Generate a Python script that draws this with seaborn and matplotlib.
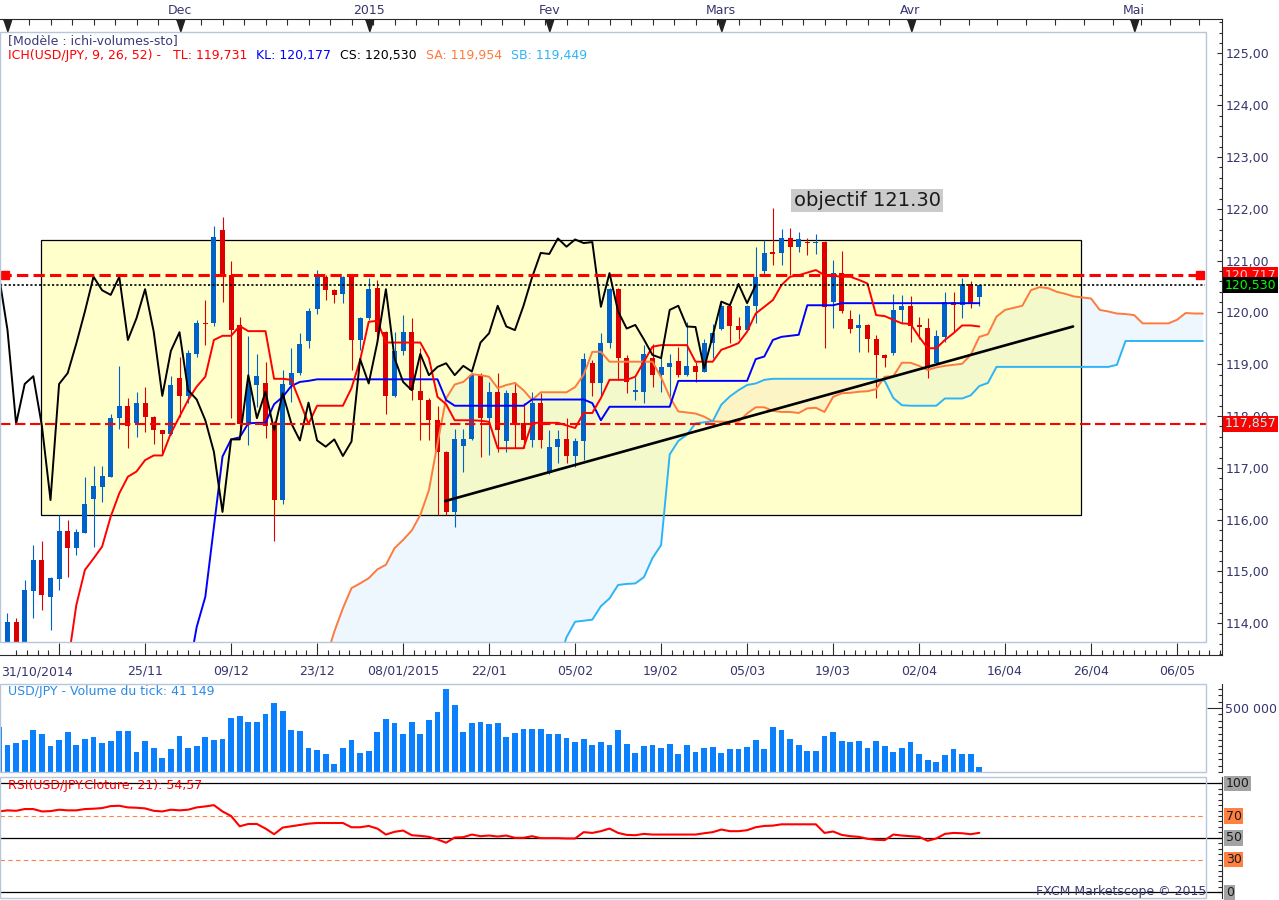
import numpy as np
import matplotlib
matplotlib.use("Agg")
import matplotlib.pyplot as plt
import matplotlib.transforms as mtrans
from matplotlib.patches import Rectangle
from matplotlib.ticker import FixedLocator, NullLocator
import seaborn as sns

sns.set_style("white")
plt.rcParams["font.family"] = ["DejaVu Sans"]

# ------------------------------------------------------------------ data
# trading-day slots: -1 = 31/10/2014 ... 113 = 13/04/2015
bars = np.arange(-1, 114)

opens = [
    112.20, 113.40, 114.03, 113.45, 114.63, 115.22, 114.51, 114.85, 115.78, 115.46,
    115.75, 116.40, 116.64, 116.83, 117.96, 118.20, 117.87, 118.26, 117.98, 117.73,
    117.65, 118.74, 118.39, 119.20, 119.80, 119.79, 121.59, 120.72, 119.76, 117.85,
    118.60, 118.64, 117.87, 116.38, 118.60, 118.83, 119.45, 120.06, 120.68, 120.43,
    120.36, 120.69, 119.47, 119.89, 120.47, 119.63, 118.39, 119.26, 119.62, 118.48,
    118.32, 117.92, 117.31, 116.15, 117.42, 117.55, 118.79, 117.96, 118.47, 117.51,
    118.44, 117.86, 117.53, 118.26, 116.90, 117.41, 117.55, 117.23, 117.51, 119.02,
    118.63, 119.42, 120.45, 119.12, 118.47, 118.47, 119.12, 118.79, 118.95, 119.06,
    118.79, 118.97, 118.86, 119.42, 119.68, 120.13, 119.74, 119.66, 120.13, 120.81,
    121.16, 121.14, 121.43, 121.27, 121.36, 121.34, 121.37, 120.20, 120.76, 119.87,
    119.71, 119.76, 119.48, 119.18, 119.21, 120.05, 120.13, 119.75, 119.71, 119.02,
    119.53, 120.21, 120.14, 120.55, 120.29]
highs = [
    112.90, 114.20, 114.10, 114.84, 115.51, 115.59, 114.90, 116.09, 116.00, 115.83,
    116.83, 117.04, 117.04, 118.05, 118.97, 118.34, 118.46, 118.56, 118.00, 117.74,
    118.77, 119.15, 119.28, 119.86, 120.24, 121.67, 121.85, 120.99, 119.92, 119.55,
    119.20, 119.04, 117.90, 118.89, 119.31, 119.60, 120.08, 120.82, 120.72, 120.45,
    120.70, 120.71, 119.92, 120.66, 120.63, 119.65, 119.63, 119.95, 119.89, 119.31,
    118.34, 118.20, 117.33, 117.75, 117.76, 118.83, 118.83, 118.66, 118.83, 118.50,
    118.66, 118.25, 118.47, 118.45, 117.73, 117.73, 117.96, 117.57, 119.21, 119.08,
    119.60, 120.47, 120.47, 119.18, 118.76, 119.37, 119.40, 119.15, 119.20, 119.34,
    119.82, 119.05, 119.48, 119.78, 120.19, 120.14, 119.92, 120.14, 121.26, 121.39,
    122.01, 121.61, 121.64, 121.55, 121.43, 121.51, 121.38, 121.01, 121.19, 120.05,
    119.98, 119.78, 119.57, 119.20, 120.36, 120.34, 120.31, 119.92, 119.89, 119.66,
    120.40, 120.40, 120.66, 120.60, 120.52]
lows = [
    111.60, 113.20, 113.00, 113.30, 114.10, 114.26, 113.87, 114.64, 114.90, 115.32,
    115.75, 115.48, 116.35, 116.83, 117.76, 117.38, 117.60, 117.70, 117.46, 117.24,
    117.64, 117.99, 118.25, 119.15, 119.37, 119.73, 120.21, 117.96, 117.67, 117.44,
    118.18, 117.57, 115.58, 116.30, 118.28, 118.80, 119.32, 119.98, 120.24, 120.18,
    120.18, 118.89, 119.28, 119.86, 119.44, 118.05, 118.37, 119.18, 118.31, 117.54,
    117.54, 116.09, 116.09, 115.86, 116.93, 117.54, 117.22, 117.25, 117.31, 117.31,
    117.38, 117.38, 117.41, 117.38, 116.89, 117.09, 117.09, 117.02, 117.15, 118.38,
    118.41, 119.31, 118.70, 118.45, 118.31, 118.26, 118.57, 118.47, 118.31, 118.76,
    118.78, 118.66, 118.85, 119.12, 119.66, 119.41, 119.48, 119.65, 119.79, 120.74,
    120.92, 120.92, 120.72, 121.17, 121.11, 121.13, 119.31, 119.70, 120.00, 119.60,
    119.24, 119.24, 118.34, 118.94, 119.18, 119.79, 119.44, 119.48, 118.73, 119.01,
    119.44, 119.63, 119.89, 120.08, 120.13]
closes = [
    112.60, 114.03, 113.45, 114.64, 115.22, 114.55, 114.87, 115.78, 115.46, 115.76,
    116.30, 116.65, 116.84, 117.96, 118.20, 117.81, 118.26, 117.98, 117.73, 117.65,
    118.61, 118.39, 119.21, 119.79, 119.78, 121.46, 120.72, 119.66, 117.85, 118.62,
    118.77, 117.81, 116.38, 118.62, 118.83, 119.40, 120.02, 120.69, 120.43, 120.34,
    120.69, 119.47, 119.89, 120.45, 119.63, 118.39, 119.26, 119.62, 118.50, 118.32,
    117.92, 117.31, 116.15, 117.55, 117.55, 118.79, 117.96, 118.47, 117.73, 118.44,
    117.86, 117.53, 118.26, 117.53, 117.41, 117.55, 117.23, 117.51, 119.10, 118.63,
    119.42, 120.45, 119.12, 118.66, 118.50, 119.20, 118.79, 118.95, 119.02, 118.79,
    118.97, 118.86, 119.42, 119.60, 120.13, 119.73, 119.66, 120.13, 120.68, 121.15,
    121.13, 121.43, 121.27, 121.41, 121.34, 121.36, 120.11, 120.76, 120.02, 119.69,
    119.76, 119.48, 119.18, 119.12, 120.05, 120.13, 119.73, 119.72, 118.92, 119.55,
    120.21, 120.14, 120.55, 120.18, 120.53]

# Tenkan-sen, slots 7..113
tenkan_start = 7
tenkan = [
    113.20, 114.35, 115.03, 115.25, 115.48, 116.06, 116.51, 116.83, 116.93, 117.15,
    117.24, 117.24, 117.67, 117.99, 118.31, 118.57, 118.76, 119.47, 119.55, 119.55,
    119.74, 119.64, 119.64, 119.64, 118.72, 118.72, 118.70, 118.28, 117.85, 118.20,
    118.20, 118.20, 118.20, 118.54, 119.08, 119.82, 119.84, 119.42, 119.42, 119.42,
    119.42, 119.42, 119.12, 118.37, 118.23, 117.92, 117.92, 117.92, 117.91, 117.89,
    117.38, 117.38, 117.38, 117.38, 117.87, 117.87, 117.87, 117.87, 117.82, 117.77,
    118.06, 118.06, 118.35, 118.70, 118.70, 118.70, 118.76, 119.05, 119.34, 119.37,
    119.37, 119.37, 119.37, 119.05, 119.05, 119.05, 119.28, 119.34, 119.41, 119.63,
    119.98, 120.11, 120.24, 120.53, 120.69, 120.72, 120.77, 120.82, 120.72, 120.71,
    120.69, 120.69, 120.63, 120.56, 119.95, 119.93, 119.86, 119.79, 119.78, 119.53,
    119.31, 119.31, 119.47, 119.60, 119.75, 119.75, 119.73]

# Kijun-sen, slots 21..113
kijun_start = 21
kijun = ([113.00, 113.93, 114.51, 115.86, 117.22, 117.55, 117.59, 117.86, 117.87, 117.87,
          118.23, 118.37, 118.58, 118.66, 118.68]
         + [118.71] * 15
         + [118.31] + [118.20] * 9
         + [118.32] * 7 + [118.25, 117.92]
         + [118.18] * 8
         + [118.68] * 9
         + [119.10, 119.15, 119.47, 119.53, 119.55, 119.57]
         + [120.14] * 4
         + [120.18] * 17)

# Senkou span A / B (already projected 26 slots ahead), slots 37..139
span_start = 37
senkou_a = [
    113.30, 113.84, 114.29, 114.68, 114.77, 114.87, 115.04, 115.13, 115.45, 115.61,
    115.79, 116.09, 116.57, 117.47, 118.34, 118.61, 118.66, 118.81, 118.79, 118.76,
    118.54, 118.60, 118.64, 118.50, 118.31, 118.46, 118.46, 118.46, 118.46, 118.56,
    118.80, 119.24, 119.24, 119.05, 119.05, 119.05, 119.05, 119.05, 119.05, 118.75,
    118.37, 118.09, 118.07, 118.05, 117.99, 117.90, 117.89, 117.89, 117.89, 118.05,
    118.17, 118.17, 118.10, 118.08, 118.08, 118.06, 118.15, 118.16, 118.08, 118.37,
    118.44, 118.45, 118.47, 118.48, 118.52, 118.76, 118.77, 119.03, 119.03, 118.97,
    118.89, 118.94, 118.97, 118.99, 119.01, 119.18, 119.53, 119.58, 119.92, 120.05,
    120.09, 120.13, 120.43, 120.49, 120.47, 120.40, 120.36, 120.31, 120.29, 120.27,
    120.05, 120.02, 119.98, 119.97, 119.95, 119.79, 119.79, 119.79, 119.79, 119.86,
    119.99, 119.98, 119.98]
senkou_b = ([113.20] * 28
            + [113.73, 114.03, 114.05, 114.07, 114.33, 114.48, 114.74, 114.76, 114.77, 114.89,
               115.26, 115.51, 117.26, 117.52, 117.64, 117.86, 117.88, 117.90, 118.22, 118.38,
               118.50, 118.60, 118.63, 118.70]
            + [118.72] * 13
            + [118.68, 118.35, 118.21, 118.20, 118.20, 118.20, 118.20, 118.34, 118.34, 118.34,
               118.40, 118.58, 118.64]
            + [118.95] * 14
            + [118.99]
            + [119.45] * 10)

volume = [
    351540, 208320, 223944, 249984, 328104, 294252, 200508, 247380, 309876, 208320,
    255192, 270816, 223944, 239568, 320292, 320292, 153636, 239568, 184884, 106764,
    177072, 278628, 184884, 200508, 270816, 247380, 255192, 419244, 434868, 387996,
    387996, 450492, 536424, 473928, 325500, 320292, 184884, 169260, 138012, 59892,
    184884, 247380, 145824, 161448, 309876, 411432, 380184, 294252, 387996, 294252,
    403620, 466116, 645792, 520800, 309876, 380184, 387996, 372372, 380184, 270816,
    302064, 333312, 333312, 333312, 294252, 294252, 263004, 231756, 255192, 208320,
    231756, 208320, 325500, 216132, 145824, 200508, 208320, 184884, 216132, 138012,
    208320, 153636, 184884, 192696, 145824, 177072, 177072, 192696, 247380, 177072,
    348936, 325500, 255192, 208320, 161448, 161448, 278628, 309876, 239568, 231756,
    239568, 184884, 239568, 200508, 153636, 184884, 231756, 138012, 91140, 75516,
    130200, 177072, 138012, 138012, 41149]

rsi = [
    74.2, 75.2, 74.8, 76.4, 76.4, 74.2, 74.5, 75.8, 75.2, 75.2,
    76.4, 76.7, 77.3, 79.1, 79.4, 77.9, 77.6, 77.0, 74.8, 74.2,
    75.8, 75.2, 75.8, 77.9, 78.8, 80.0, 74.2, 70.0, 60.6, 62.7,
    62.7, 58.5, 53.3, 59.4, 60.6, 61.8, 63.0, 63.6, 63.6, 63.6,
    63.6, 59.7, 59.7, 60.9, 58.5, 53.0, 55.5, 56.7, 52.4, 51.8,
    50.9, 48.5, 45.5, 50.3, 50.6, 53.0, 51.5, 52.1, 51.2, 52.1,
    50.0, 50.0, 51.5, 49.7, 49.7, 49.7, 49.4, 49.4, 55.2, 54.5,
    56.1, 58.5, 54.5, 52.7, 52.4, 53.6, 53.0, 53.0, 53.0, 53.0,
    53.0, 53.0, 54.2, 55.2, 57.6, 56.1, 56.1, 57.0, 59.7, 60.9,
    61.2, 62.4, 62.4, 62.4, 62.4, 62.4, 54.5, 55.8, 52.7, 51.5,
    50.9, 49.1, 48.2, 47.9, 53.0, 52.1, 51.5, 50.9, 47.3, 49.4,
    53.6, 54.5, 54.2, 53.3, 54.57]

# horizontal levels / drawings
level_high = 120.717
level_low = 117.857
last_close = 120.530
trend_x = [50.9, 123.9]
trend_y = [116.36, 119.73]
box_x = [3.9, 124.8]
box_y = [116.10, 121.39]
objectif_label = "objectif 121.30"

# axis labels
price_ticks = [114, 115, 116, 117, 118, 119, 120, 121, 122, 123, 124, 125]
price_tick_labels = ["114,00", "115,00", "116,00", "117,00", "118,00", "119,00",
                     "120,00", "121,00", "122,00", "123,00", "124,00", "125,00"]
date_pos = [6, 16, 26, 36, 46, 56, 66, 76, 86, 96, 106, 116, 126, 136]
date_labels = ["", "25/11", "09/12", "23/12", "08/01/2015", "22/01", "05/02",
               "19/02", "05/03", "19/03", "02/04", "16/04", "26/04", "06/05"]
first_date_label = "31/10/2014"
month_pos = [0, 20, 42, 63, 83, 105, 131]
month_labels = ["", "Dec", "2015", "Fev", "Mars", "Avr", "Mai"]
rsi_levels = [100, 70, 50, 30, 0]
rsi_level_labels = ["100", "70", "50", "30", "0"]

# ------------------------------------------------------------------ style
W, H = 1279, 900
SLOT, X0PX = 8.6, 7.5          # px per slot, px of slot 0
PPX, Y120 = 51.8, 312.5        # px per yen, px of 120.00
BLUE, RED = "#0062c8", "#dd0000"
SA_C, SB_C = "#ff7a3d", "#2db4f7"
CLOUD_UP, CLOUD_DN = "#eef7fd", "#fcf0f6"
VOL_C = "#0a80ff"
FRAME_C = "#b7c7db"
AXIS_C = "#2b2b2b"
LABEL_C = "#35356e"


def prect(x0, y0, x1, y1):
    return [x0 / W, 1 - y1 / H, (x1 - x0) / W, (y1 - y0) / H]


def py(ypx):
    return 120 + (Y120 - ypx) / PPX


def sx(xpx):
    return (xpx - X0PX) / SLOT


XMIN, XMAX = sx(0), sx(1222)
INNER = 1206 / 1222

fig = plt.figure(figsize=(W / 100, H / 100), dpi=100)
fig.patch.set_facecolor("white")

# ---------------- frame axes (right price scale, date axis, month axis)
ax_frame = fig.add_axes(prect(0, 19, 1222, 655))
ax_top = ax_frame.twiny()
ax_frame.set_facecolor("white")
ax_frame.set_xlim(XMIN, XMAX)
ax_frame.set_ylim(py(655), py(19))
ax_frame.spines["left"].set_visible(False)
for s in ("top", "bottom", "right"):
    ax_frame.spines[s].set_color(AXIS_C)
    ax_frame.spines[s].set_linewidth(0.8)
ax_frame.yaxis.tick_right()
ax_frame.set_yticks(price_ticks, labels=price_tick_labels)
ax_frame.yaxis.set_minor_locator(FixedLocator(np.round(np.arange(113.4, 125.7, 0.2), 1)))
ax_frame.tick_params(axis="y", which="major", direction="in", length=3.8, width=0.8,
                     color=AXIS_C, labelcolor=LABEL_C, labelsize=9, pad=2.5,
                     right=True, left=False, labelright=True, labelleft=False)
ax_frame.tick_params(axis="y", which="minor", direction="in", length=2.4, width=0.8,
                     color=AXIS_C, right=True, left=False)
ax_frame.set_xticks(date_pos, labels=date_labels)
ax_frame.xaxis.set_minor_locator(FixedLocator(np.arange(1.0, XMAX, 1.25)))
ax_frame.tick_params(axis="x", which="major", direction="in", length=8.6, width=0.8,
                     color=AXIS_C, labelcolor=LABEL_C, labelsize=9, pad=6.5,
                     bottom=True, top=False)
ax_frame.tick_params(axis="x", which="minor", direction="in", length=3.6, width=0.8,
                     color=AXIS_C, bottom=True, top=False)
fig.text(1 / W, 1 - 672 / H, first_date_label, ha="left", va="center",
         fontsize=9, color=LABEL_C)

ax_top.set_xlim(XMIN, XMAX)
for s in ax_top.spines.values():
    s.set_visible(False)
ax_top.set_xticks(month_pos, labels=month_labels)
top_minor = np.concatenate([np.arange(0, 105.1, 2.5), np.arange(108.4, XMAX, 3.35)])
ax_top.xaxis.set_minor_locator(FixedLocator(top_minor))
ax_top.tick_params(axis="x", which="major", direction="in", length=0, labelsize=9,
                   labelcolor=LABEL_C, pad=1.5)
ax_top.tick_params(axis="x", which="minor", direction="in", length=4.3, width=0.8,
                   color=AXIS_C)
tri = [(-0.33, 0.5), (0.33, 0.5), (0.0, -0.5)]
ax_top.plot(month_pos, [0.989] * len(month_pos),
            transform=mtrans.blended_transform_factory(ax_top.transData, ax_top.transAxes),
            marker=tri, markersize=9, color="#222222", ls="none", clip_on=False)

# price-scale boxes
bt = mtrans.blended_transform_factory(ax_frame.transAxes, ax_frame.transData)
ax_frame.text(1.002, level_high, "120,717", transform=bt, ha="left", va="center",
              fontsize=9, color="#ffc8c8", zorder=6, clip_on=False,
              bbox=dict(boxstyle="square,pad=0.12", fc="#ff0000", ec="none"))
ax_frame.text(1.002, last_close, "120,530", transform=bt, ha="left", va="center",
              fontsize=9, color="#00ff00", zorder=7, clip_on=False,
              bbox=dict(boxstyle="square,pad=0.12", fc="#000000", ec="none"))
ax_frame.text(1.002, level_low, "117,857", transform=bt, ha="left", va="center",
              fontsize=9, color="#a8ffff", zorder=6, clip_on=False,
              bbox=dict(boxstyle="square,pad=0.12", fc="#ff0000", ec="none"))

# ---------------- price panel
ax_price = fig.add_axes(prect(0, 32, 1222, 642))
ax_price.set_axis_off()
ax_price.set_facecolor("none")

span_x = np.arange(span_start, span_start + len(senkou_a))
sa = np.array(senkou_a)
sb = np.array(senkou_b)
ax_price.fill_between(span_x, sa, sb, where=sa >= sb, interpolate=True,
                      color=CLOUD_UP, lw=0, zorder=1)
ax_price.fill_between(span_x, sa, sb, where=sa < sb, interpolate=True,
                      color=CLOUD_DN, lw=0, zorder=1)

ax_price.add_patch(Rectangle((box_x[0], box_y[0]), box_x[1] - box_x[0], box_y[1] - box_y[0],
                             fc=(1.0, 1.0, 0.39, 0.33), ec="none", zorder=2))
ax_price.add_patch(Rectangle((box_x[0], box_y[0]), box_x[1] - box_x[0], box_y[1] - box_y[0],
                             fill=False, ec="#000000", lw=0.9, zorder=2.1))

o = np.array(opens); h = np.array(highs); l = np.array(lows); c = np.array(closes)
cols = np.where(c >= o, BLUE, RED)
ax_price.vlines(bars, l, h, colors=cols, linewidth=0.8, zorder=3)
ax_price.bar(bars, np.maximum(np.abs(c - o), 0.025), bottom=np.minimum(o, c),
             width=0.6, color=cols, linewidth=0, zorder=3)

sns.lineplot(x=span_x, y=sa, ax=ax_price, color=SA_C, linewidth=1.4, zorder=4, legend=False)
sns.lineplot(x=span_x, y=sb, ax=ax_price, color=SB_C, linewidth=1.4, zorder=4, legend=False)
sns.lineplot(x=np.arange(kijun_start, kijun_start + len(kijun)), y=np.array(kijun),
             ax=ax_price, color="#0000ff", linewidth=1.4, zorder=4.2, legend=False)
sns.lineplot(x=np.arange(tenkan_start, tenkan_start + len(tenkan)), y=np.array(tenkan),
             ax=ax_price, color="#ff0000", linewidth=1.4, zorder=4.3, legend=False)
sns.lineplot(x=bars[26:] - 26, y=c[26:], ax=ax_price, color="#000000",
             linewidth=1.4, zorder=4.4, legend=False)

ax_price.plot([XMIN, sx(1197)], [level_high, level_high], color="#ff0000", lw=2.2,
              dashes=(3.7, 1.7), zorder=5)
ax_price.plot([sx(5), sx(1200)], [level_high, level_high], color="#ff0000", ls="none",
              marker="s", markersize=6, zorder=5)
ax_price.plot([XMIN, sx(1206)], [level_low, level_low], color="#ff0000", lw=1.5,
              dashes=(5, 2.2), zorder=5)
ax_price.plot([XMIN, sx(1205)], [last_close, last_close], color="#000000", lw=1.2,
              dashes=(1.3, 1.3), zorder=5)
ax_price.plot(trend_x, trend_y, color="#000000", lw=1.9, zorder=6)
ax_price.text(sx(867), py(200.5), objectif_label, ha="center", va="center", fontsize=14,
              color="#1a1a1a", zorder=7,
              bbox=dict(boxstyle="square,pad=0.12", fc="#cbcbcb", ec="none"))
ax_price.set_xlim(XMIN, XMAX)
ax_price.set_ylim(py(642), py(32))
ax_price.add_patch(Rectangle((0, 0), INNER, 1, transform=ax_price.transAxes, fill=False,
                             ec=FRAME_C, lw=1.0, clip_on=False, zorder=8))

# ---------------- volume panel
ax_vol = fig.add_axes(prect(0, 684, 1222, 772))
sns.barplot(x=bars, y=volume, native_scale=True, orient="x", width=0.66, color=VOL_C,
            saturation=1, linewidth=0, errorbar=None, ax=ax_vol)
ax_vol.set_xlim(XMIN, XMAX)
ax_vol.set_ylim(0, 687000)
ax_vol.set_xlabel(""); ax_vol.set_ylabel("")
ax_vol.xaxis.set_major_locator(NullLocator())
ax_vol.xaxis.set_minor_locator(NullLocator())
for s in ("top", "left", "bottom"):
    ax_vol.spines[s].set_visible(False)
ax_vol.spines["right"].set_color(AXIS_C); ax_vol.spines["right"].set_linewidth(0.8)
ax_vol.yaxis.tick_right()
ax_vol.set_yticks([500000], labels=["500 000"])
ax_vol.yaxis.set_minor_locator(FixedLocator(np.arange(0, 687001, 50000)))
ax_vol.tick_params(axis="y", which="major", direction="in", length=10.8, width=0.8,
                   color=AXIS_C, labelcolor=LABEL_C, labelsize=9, pad=2.5)
ax_vol.tick_params(axis="y", which="minor", direction="in", length=3, width=0.8, color=AXIS_C)
ax_vol.add_patch(Rectangle((0, 0), INNER, 1, transform=ax_vol.transAxes, fill=False,
                           ec=FRAME_C, lw=1.0, clip_on=False, zorder=8))

# ---------------- RSI panel
ax_rsi = fig.add_axes(prect(0, 777, 1222, 898))
for lv in (100, 50, 0):
    ax_rsi.axhline(lv, color="#000000", lw=0.9, zorder=2)
for lv in (70, 30):
    ax_rsi.plot([XMIN, sx(1203)], [lv, lv], color="#ff8040", lw=0.8, dashes=(4, 3), zorder=2)
sns.lineplot(x=bars, y=np.array(rsi), ax=ax_rsi, color="#ff0000", linewidth=1.5,
             zorder=3, legend=False)
ax_rsi.set_xlim(XMIN, XMAX)
ax_rsi.set_ylim(-5.2, 105.8)
ax_rsi.set_xlabel(""); ax_rsi.set_ylabel("")
ax_rsi.xaxis.set_major_locator(NullLocator())
ax_rsi.xaxis.set_minor_locator(NullLocator())
for s in ("top", "left", "bottom"):
    ax_rsi.spines[s].set_visible(False)
ax_rsi.spines["right"].set_color(AXIS_C); ax_rsi.spines["right"].set_linewidth(0.8)
ax_rsi.yaxis.tick_right()
ax_rsi.yaxis.set_major_locator(NullLocator())
ax_rsi.yaxis.set_minor_locator(FixedLocator(np.arange(0, 101, 5)))
ax_rsi.tick_params(axis="y", which="minor", direction="in", length=3, width=0.8, color=AXIS_C)
rt = mtrans.blended_transform_factory(ax_rsi.transAxes, ax_rsi.transData)
for lv, lab in zip(rsi_levels, rsi_level_labels):
    fc = "#ff8040" if lv in (70, 30) else "#a3a3a3"
    ax_rsi.text(1.003, lv, lab, transform=rt, ha="left", va="center", fontsize=9,
                color="#1a1a1a", clip_on=False, zorder=6,
                bbox=dict(boxstyle="square,pad=0.1", fc=fc, ec="none"))
ax_rsi.add_patch(Rectangle((0, 0), INNER, 1, transform=ax_rsi.transAxes, fill=False,
                           ec=FRAME_C, lw=1.0, clip_on=False, zorder=8))

# ---------------- texts
fig.text(8 / W, 1 - 41 / H, "[Modèle : ichi-volumes-sto]", ha="left", va="center",
         fontsize=9, color="#3a3a78")
header_texts = ["ICH(USD/JPY, 9, 26, 52) -", "TL: 119,731", "KL: 120,177",
                "CS: 120,530", "SA: 119,954", "SB: 119,449"]
header_colors = ["#ff0000", "#ff0000", "#0000ff", "#000000", SA_C, SB_C]
header_x = [8, 173, 256, 340, 426, 511]
for t, col, xp in zip(header_texts, header_colors, header_x):
    fig.text(xp / W, 1 - 55 / H, t, ha="left", va="center", fontsize=9, color=col)
fig.text(8 / W, 1 - 692 / H, "USD/JPY - Volume du tick: 41 149", ha="left", va="center",
         fontsize=9, color="#2a8ae8")
fig.text(8 / W, 1 - 785 / H, "RSI(USD/JPY.Cloture, 21): 54,57", ha="left", va="center",
         fontsize=9, color="#ff0000", zorder=10)
fig.text(1206 / W, 1 - 891 / H, "FXCM Marketscope © 2015", ha="right", va="center",
         fontsize=9, color="#3a3a6e", zorder=10)

fig.savefig("out.png", dpi=100, facecolor="white")
